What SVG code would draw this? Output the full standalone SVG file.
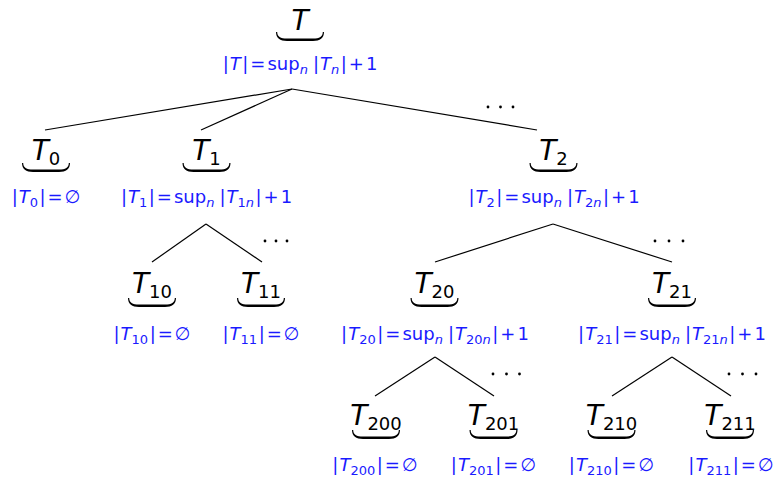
<svg xmlns="http://www.w3.org/2000/svg" xmlns:xlink="http://www.w3.org/1999/xlink" width="777" height="477" viewBox="0 0 777 477">
<style>
.nd{font-family:"DejaVu Sans",sans-serif;font-size:28px;fill:#000;text-anchor:middle}
.nd .s{font-size:18px;font-style:normal}
.lb{font-family:"DejaVu Sans",sans-serif;font-size:18px;fill:#1a1aff;text-anchor:middle}
.lb .s{font-size:13px}
.i{font-style:italic}
.br{fill:#000}
.edges line{stroke:#000;stroke-width:1.2}
.dots circle{fill:#000}
</style>
<defs>
<path id="brace" class="br" d="M-24,0 C-24,6 -20,9 -13,9 L13,9 C20,9 24,6 24,0 L22.8,0 C22.8,4.5 19.5,6.6 13,6.6 L-13,6.6 C-19.5,6.6 -22.8,4.5 -22.8,0 Z"/>
</defs>
<g id="connectors" class="edges">
<line x1="292" y1="89" x2="45" y2="130"/>
<line x1="292" y1="89" x2="201" y2="130"/>
<line x1="292" y1="89" x2="537" y2="130"/>
<line x1="206" y1="224" x2="152" y2="262"/>
<line x1="206" y1="224" x2="262" y2="262"/>
<line x1="553" y1="224" x2="435" y2="262"/>
<line x1="553" y1="224" x2="672" y2="262"/>
<line x1="435" y1="357" x2="375" y2="396"/>
<line x1="435" y1="357" x2="494" y2="396"/>
<line x1="672" y1="357" x2="612" y2="396"/>
<line x1="672" y1="357" x2="731" y2="396"/>
</g>
<g id="ellipses" class="dots">
<circle cx="488" cy="107" r="1.4"/><circle cx="500.5" cy="107" r="1.4"/><circle cx="513" cy="107" r="1.4"/>
<circle cx="265" cy="241" r="1.4"/><circle cx="276" cy="241" r="1.4"/><circle cx="287" cy="241" r="1.4"/>
<circle cx="655" cy="241" r="1.4"/><circle cx="669" cy="241" r="1.4"/><circle cx="683" cy="241" r="1.4"/>
<circle cx="493" cy="374" r="1.4"/><circle cx="506.5" cy="374" r="1.4"/><circle cx="519.5" cy="374" r="1.4"/>
<circle cx="729" cy="374" r="1.4"/><circle cx="742.5" cy="374" r="1.4"/><circle cx="756" cy="374" r="1.4"/>
</g>

<g id="node-T">
<text class="nd" x="300" y="30"><tspan class="i">T</tspan></text>
<use xlink:href="#brace" x="300" y="32"/>
<text class="lb" x="300" y="70">|<tspan class="i" dx="1">T</tspan><tspan dx="1.5">|</tspan><tspan dx="2">=</tspan><tspan dx="2">sup</tspan><tspan class="s i" dy="4">n</tspan><tspan dy="-4" dx="5">|</tspan><tspan class="i" dx="1">T</tspan><tspan class="s i" dy="4">n</tspan><tspan dy="-4" dx="1.5">|</tspan><tspan dx="2">+</tspan><tspan dx="2">1</tspan></text>
</g>

<g id="node-T0">
<text class="nd" x="46" y="160"><tspan class="i">T</tspan><tspan class="s" dy="5">0</tspan></text>
<use xlink:href="#brace" x="46" y="163"/>
<text class="lb" x="46" y="203">|<tspan class="i" dx="1">T</tspan><tspan class="s" dy="4">0</tspan><tspan dy="-4" dx="1.5">|</tspan><tspan dx="2">=</tspan><tspan class="i" dx="2">∅</tspan></text>
</g>

<g id="node-T1">
<text class="nd" x="206.5" y="160"><tspan class="i">T</tspan><tspan class="s" dy="5">1</tspan></text>
<use xlink:href="#brace" x="206.5" y="163"/>
<text class="lb" x="206.5" y="203">|<tspan class="i" dx="1">T</tspan><tspan class="s" dy="4">1</tspan><tspan dy="-4" dx="1.5">|</tspan><tspan dx="2">=</tspan><tspan dx="2">sup</tspan><tspan class="s i" dy="4">n</tspan><tspan dy="-4" dx="5">|</tspan><tspan class="i" dx="1">T</tspan><tspan class="s" dy="4">1<tspan class="i">n</tspan></tspan><tspan dy="-4" dx="1.5">|</tspan><tspan dx="2">+</tspan><tspan dx="2">1</tspan></text>
</g>

<g id="node-T2">
<text class="nd" x="553.5" y="160"><tspan class="i">T</tspan><tspan class="s" dy="5">2</tspan></text>
<use xlink:href="#brace" x="553.5" y="163"/>
<text class="lb" x="554" y="203">|<tspan class="i" dx="1">T</tspan><tspan class="s" dy="4">2</tspan><tspan dy="-4" dx="1.5">|</tspan><tspan dx="2">=</tspan><tspan dx="2">sup</tspan><tspan class="s i" dy="4">n</tspan><tspan dy="-4" dx="5">|</tspan><tspan class="i" dx="1">T</tspan><tspan class="s" dy="4">2<tspan class="i">n</tspan></tspan><tspan dy="-4" dx="1.5">|</tspan><tspan dx="2">+</tspan><tspan dx="2">1</tspan></text>
</g>

<g id="node-T10">
<text class="nd" x="152" y="293"><tspan class="i">T</tspan><tspan class="s" dy="5">10</tspan></text>
<use xlink:href="#brace" x="152" y="298"/>
<text class="lb" x="152" y="340">|<tspan class="i" dx="1">T</tspan><tspan class="s" dy="4">10</tspan><tspan dy="-4" dx="1.5">|</tspan><tspan dx="2">=</tspan><tspan class="i" dx="2">∅</tspan></text>
</g>

<g id="node-T11">
<text class="nd" x="261" y="293"><tspan class="i">T</tspan><tspan class="s" dy="5">11</tspan></text>
<use xlink:href="#brace" x="261" y="298"/>
<text class="lb" x="261" y="340">|<tspan class="i" dx="1">T</tspan><tspan class="s" dy="4">11</tspan><tspan dy="-4" dx="1.5">|</tspan><tspan dx="2">=</tspan><tspan class="i" dx="2">∅</tspan></text>
</g>

<g id="node-T20">
<text class="nd" x="434.5" y="293"><tspan class="i">T</tspan><tspan class="s" dy="5">20</tspan></text>
<use xlink:href="#brace" x="434.5" y="298"/>
<text class="lb" x="435" y="340">|<tspan class="i" dx="1">T</tspan><tspan class="s" dy="4">20</tspan><tspan dy="-4" dx="1.5">|</tspan><tspan dx="2">=</tspan><tspan dx="2">sup</tspan><tspan class="s i" dy="4">n</tspan><tspan dy="-4" dx="5">|</tspan><tspan class="i" dx="1">T</tspan><tspan class="s" dy="4">20<tspan class="i">n</tspan></tspan><tspan dy="-4" dx="1.5">|</tspan><tspan dx="2">+</tspan><tspan dx="2">1</tspan></text>
</g>

<g id="node-T21">
<text class="nd" x="672" y="293"><tspan class="i">T</tspan><tspan class="s" dy="5">21</tspan></text>
<use xlink:href="#brace" x="672" y="298"/>
<text class="lb" x="672" y="340">|<tspan class="i" dx="1">T</tspan><tspan class="s" dy="4">21</tspan><tspan dy="-4" dx="1.5">|</tspan><tspan dx="2">=</tspan><tspan dx="2">sup</tspan><tspan class="s i" dy="4">n</tspan><tspan dy="-4" dx="5">|</tspan><tspan class="i" dx="1">T</tspan><tspan class="s" dy="4">21<tspan class="i">n</tspan></tspan><tspan dy="-4" dx="1.5">|</tspan><tspan dx="2">+</tspan><tspan dx="2">1</tspan></text>
</g>

<g id="node-T200">
<text class="nd" x="376" y="425"><tspan class="i">T</tspan><tspan class="s" dy="5">200</tspan></text>
<use xlink:href="#brace" x="376" y="430"/>
<text class="lb" x="375" y="471">|<tspan class="i" dx="1">T</tspan><tspan class="s" dy="4">200</tspan><tspan dy="-4" dx="1.5">|</tspan><tspan dx="2">=</tspan><tspan class="i" dx="2">∅</tspan></text>
</g>

<g id="node-T201">
<text class="nd" x="493.5" y="425"><tspan class="i">T</tspan><tspan class="s" dy="5">201</tspan></text>
<use xlink:href="#brace" x="493.5" y="430"/>
<text class="lb" x="493.5" y="471">|<tspan class="i" dx="1">T</tspan><tspan class="s" dy="4">201</tspan><tspan dy="-4" dx="1.5">|</tspan><tspan dx="2">=</tspan><tspan class="i" dx="2">∅</tspan></text>
</g>

<g id="node-T210">
<text class="nd" x="611.5" y="425"><tspan class="i">T</tspan><tspan class="s" dy="5">210</tspan></text>
<use xlink:href="#brace" x="611.5" y="430"/>
<text class="lb" x="611.5" y="471">|<tspan class="i" dx="1">T</tspan><tspan class="s" dy="4">210</tspan><tspan dy="-4" dx="1.5">|</tspan><tspan dx="2">=</tspan><tspan class="i" dx="2">∅</tspan></text>
</g>

<g id="node-T211">
<text class="nd" x="730" y="425"><tspan class="i">T</tspan><tspan class="s" dy="5">211</tspan></text>
<use xlink:href="#brace" x="730" y="430"/>
<text class="lb" x="731" y="471">|<tspan class="i" dx="1">T</tspan><tspan class="s" dy="4">211</tspan><tspan dy="-4" dx="1.5">|</tspan><tspan dx="2">=</tspan><tspan class="i" dx="2">∅</tspan></text>
</g>
</svg>
